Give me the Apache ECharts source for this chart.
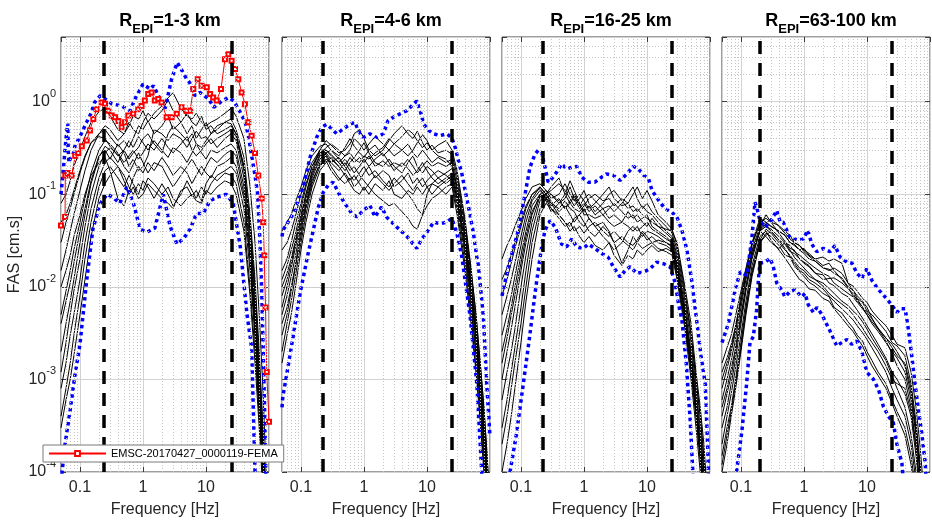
<!DOCTYPE html>
<html>
<head>
<meta charset="utf-8">
<script src="https://cdn.jsdelivr.net/npm/echarts@6/dist/echarts.min.js"></script>
<style>
html,body{margin:0;padding:0;background:#fff;}
#chart{width:932px;height:523px;}
</style>
</head>
<body>
<div id="chart"></div>
<script>
// Common frequency sampling of the individual records [Hz]
const FREQ = [0.05,0.06,0.07,0.08,0.1,0.12,0.15,0.2,0.25,0.3,0.4,0.5,0.6,0.7,0.85,1,1.2,1.5,2,2.5,3,4,5,6,7,8.5,10,12,15,20,25,30,40,50,60,70,80,90,100];

// Distance bins (km)
const binLabels = ['1-3', '4-6', '16-25', '63-100'];

// Usable band limits for each bin [Hz]
const bandLimits = [[0.24, 26], [0.22, 25], [0.22, 25], [0.2, 25]];

// FAS of individual records, bin 1-3 km [cm.s]
const records1 = [
  [0.08,0.1,0.14,0.2,0.3,0.42,0.6,0.78,0.85,0.7,0.5,0.45,0.55,0.7,0.65,0.8,0.6,0.75,0.9,1.1,1.25,0.85,0.7,0.65,0.75,0.6,0.55,0.6,0.65,0.75,0.85,0.7,0.4,0.12,0.03,0.005,0.0008,0.0001,0.00002],
  [0.03,0.05,0.07,0.1,0.17,0.25,0.36,0.45,0.5,0.42,0.33,0.38,0.32,0.4,0.55,0.5,0.62,0.45,0.55,0.7,0.5,0.6,0.45,0.55,0.4,0.5,0.6,0.45,0.5,0.6,0.65,0.5,0.25,0.06,0.012,0.002,0.0003,0.00005,0.00001],
  [0.005,0.009,0.015,0.025,0.05,0.09,0.17,0.3,0.38,0.35,0.28,0.22,0.26,0.3,0.24,0.28,0.35,0.3,0.4,0.32,0.28,0.35,0.42,0.3,0.26,0.3,0.35,0.4,0.32,0.4,0.45,0.38,0.15,0.03,0.005,0.0008,0.00015,0.00003,0.00001],
  [0.0004,0.0008,0.0015,0.003,0.008,0.02,0.05,0.12,0.18,0.2,0.15,0.12,0.16,0.13,0.1,0.14,0.12,0.09,0.13,0.1,0.075,0.1,0.14,0.11,0.09,0.12,0.1,0.13,0.16,0.18,0.2,0.17,0.07,0.015,0.003,0.0005,0.0001,0.00002,0.00001],
  [0.002,0.004,0.007,0.012,0.03,0.06,0.13,0.25,0.33,0.3,0.22,0.3,0.38,0.32,0.42,0.36,0.3,0.38,0.3,0.25,0.32,0.28,0.22,0.28,0.35,0.28,0.24,0.3,0.28,0.32,0.35,0.3,0.12,0.025,0.004,0.0007,0.00012,0.00002,0.00001],
  [0.01,0.015,0.022,0.035,0.06,0.1,0.16,0.22,0.25,0.18,0.09,0.075,0.11,0.15,0.2,0.17,0.22,0.18,0.25,0.2,0.16,0.2,0.17,0.13,0.16,0.2,0.17,0.15,0.2,0.22,0.25,0.2,0.09,0.02,0.003,0.0005,0.0001,0.00002,0.00001],
  [0.0012,0.0025,0.005,0.009,0.02,0.045,0.1,0.2,0.28,0.32,0.27,0.2,0.17,0.21,0.28,0.22,0.17,0.22,0.2,0.15,0.12,0.16,0.2,0.24,0.2,0.16,0.2,0.25,0.22,0.27,0.3,0.26,0.1,0.02,0.0035,0.0006,0.0001,0.00002,0.00001],
  [0.015,0.025,0.04,0.06,0.11,0.18,0.3,0.45,0.55,0.5,0.38,0.45,0.6,0.5,0.45,0.6,0.75,0.65,0.8,1.05,0.8,0.6,0.75,0.6,0.55,0.7,0.5,0.55,0.45,0.5,0.55,0.45,0.2,0.04,0.008,0.0012,0.0002,0.00003,0.00001],
  [0.0003,0.0006,0.001,0.0018,0.005,0.012,0.035,0.09,0.13,0.16,0.2,0.16,0.12,0.1,0.13,0.11,0.15,0.13,0.1,0.12,0.09,0.075,0.09,0.1,0.085,0.08,0.11,0.1,0.12,0.14,0.13,0.1,0.04,0.008,0.0015,0.0003,0.00006,0.00001,0.00001],
  [0.004,0.007,0.011,0.018,0.04,0.07,0.14,0.26,0.3,0.24,0.35,0.28,0.2,0.24,0.18,0.2,0.26,0.5,0.45,0.38,0.45,0.4,0.32,0.4,0.48,0.4,0.42,0.35,0.4,0.45,0.5,0.42,0.18,0.04,0.006,0.001,0.00018,0.00003,0.00001],
  [0.0008,0.0015,0.003,0.005,0.012,0.03,0.07,0.15,0.22,0.25,0.2,0.14,0.1,0.12,0.09,0.1,0.13,0.11,0.09,0.08,0.07,0.11,0.12,0.095,0.11,0.085,0.13,0.16,0.14,0.17,0.16,0.13,0.05,0.01,0.002,0.0004,0.00008,0.00001,0.00001],
  [0.05,0.06,0.08,0.11,0.18,0.26,0.36,0.42,0.4,0.33,0.26,0.3,0.24,0.28,0.32,0.4,0.45,0.35,0.28,0.45,0.55,0.45,0.38,0.45,0.35,0.32,0.38,0.45,0.55,0.6,0.58,0.45,0.2,0.05,0.01,0.0015,0.0003,0.00004,0.00001]
];

// FAS of individual records, bin 4-6 km
const records2 = [
  [0.04,0.05,0.06,0.08,0.12,0.18,0.26,0.33,0.35,0.3,0.26,0.32,0.4,0.33,0.28,0.25,0.3,0.26,0.3,0.38,0.45,0.55,0.45,0.4,0.48,0.36,0.3,0.34,0.28,0.3,0.27,0.16,0.05,0.015,0.005,0.0015,0.0005,0.00015,0.00004],
  [0.015,0.02,0.03,0.045,0.08,0.13,0.2,0.28,0.3,0.26,0.22,0.18,0.22,0.25,0.3,0.36,0.28,0.22,0.2,0.24,0.2,0.17,0.22,0.26,0.2,0.17,0.2,0.18,0.15,0.17,0.19,0.11,0.035,0.01,0.003,0.001,0.0003,0.0001,0.00003],
  [0.005,0.008,0.013,0.02,0.045,0.08,0.15,0.24,0.28,0.3,0.24,0.2,0.16,0.14,0.17,0.2,0.16,0.18,0.14,0.12,0.15,0.12,0.1,0.085,0.07,0.06,0.1,0.13,0.12,0.14,0.16,0.09,0.025,0.007,0.002,0.0006,0.0002,0.00006,0.00002],
  [0.002,0.004,0.007,0.012,0.03,0.06,0.12,0.2,0.24,0.22,0.18,0.22,0.18,0.2,0.16,0.14,0.12,0.1,0.085,0.075,0.08,0.065,0.055,0.045,0.042,0.06,0.075,0.09,0.1,0.12,0.13,0.07,0.018,0.005,0.0013,0.0004,0.00012,0.00004,0.00001],
  [0.01,0.014,0.02,0.03,0.06,0.1,0.17,0.27,0.32,0.35,0.3,0.26,0.3,0.4,0.35,0.3,0.35,0.42,0.35,0.3,0.26,0.3,0.35,0.28,0.25,0.3,0.26,0.22,0.25,0.22,0.24,0.14,0.045,0.013,0.004,0.0012,0.0004,0.00012,0.00003],
  [0.003,0.005,0.009,0.015,0.035,0.07,0.13,0.22,0.26,0.2,0.15,0.13,0.15,0.12,0.14,0.17,0.2,0.15,0.18,0.16,0.12,0.14,0.17,0.13,0.15,0.12,0.14,0.16,0.18,0.16,0.14,0.08,0.022,0.006,0.0018,0.0005,0.00015,0.00005,0.00001],
  [0.025,0.03,0.04,0.055,0.1,0.15,0.22,0.3,0.28,0.24,0.2,0.24,0.2,0.17,0.2,0.24,0.2,0.24,0.28,0.22,0.18,0.22,0.19,0.16,0.18,0.22,0.18,0.15,0.13,0.15,0.17,0.1,0.03,0.009,0.0028,0.0008,0.00025,0.00008,0.00002],
  [0.008,0.012,0.018,0.028,0.055,0.1,0.18,0.3,0.38,0.34,0.28,0.3,0.35,0.45,0.5,0.4,0.3,0.34,0.26,0.3,0.35,0.3,0.26,0.3,0.36,0.44,0.38,0.3,0.34,0.38,0.3,0.18,0.055,0.016,0.005,0.0015,0.0005,0.00015,0.00004],
  [0.0015,0.003,0.005,0.009,0.025,0.05,0.1,0.18,0.22,0.25,0.2,0.16,0.13,0.11,0.1,0.12,0.1,0.13,0.11,0.14,0.1,0.09,0.11,0.1,0.12,0.1,0.12,0.1,0.12,0.1,0.12,0.06,0.015,0.004,0.0012,0.00035,0.0001,0.00003,0.00001],
  [0.006,0.01,0.016,0.025,0.05,0.09,0.16,0.26,0.27,0.22,0.25,0.2,0.25,0.22,0.25,0.22,0.26,0.2,0.23,0.2,0.22,0.2,0.24,0.2,0.17,0.2,0.23,0.2,0.22,0.2,0.22,0.12,0.04,0.011,0.0035,0.001,0.0003,0.0001,0.00003],
  [0.012,0.017,0.025,0.035,0.07,0.12,0.2,0.3,0.3,0.27,0.22,0.26,0.28,0.24,0.22,0.26,0.24,0.28,0.32,0.4,0.35,0.42,0.5,0.45,0.38,0.32,0.36,0.3,0.26,0.24,0.2,0.12,0.035,0.01,0.003,0.0009,0.00028,0.00009,0.00002],
  [0.004,0.006,0.01,0.016,0.04,0.075,0.14,0.21,0.23,0.18,0.14,0.17,0.14,0.16,0.13,0.11,0.13,0.16,0.13,0.11,0.13,0.16,0.13,0.11,0.13,0.15,0.12,0.13,0.15,0.13,0.15,0.09,0.028,0.008,0.0025,0.0007,0.0002,0.00006,0.00002]
];

// FAS of individual records, bin 16-25 km
const records3 = [
  [0.02,0.028,0.035,0.045,0.065,0.09,0.12,0.13,0.11,0.09,0.1,0.13,0.1,0.085,0.1,0.085,0.07,0.08,0.1,0.12,0.09,0.075,0.08,0.065,0.07,0.06,0.055,0.05,0.045,0.042,0.04,0.03,0.01,0.004,0.0012,0.0005,0.0002,0.00006,0.00002],
  [0.008,0.012,0.018,0.026,0.045,0.07,0.1,0.12,0.1,0.12,0.15,0.1,0.08,0.095,0.075,0.09,0.1,0.085,0.07,0.075,0.065,0.08,0.1,0.12,0.09,0.07,0.08,0.065,0.055,0.045,0.038,0.025,0.008,0.003,0.001,0.0004,0.00015,0.00005,0.00002],
  [0.003,0.005,0.008,0.013,0.028,0.05,0.085,0.11,0.095,0.075,0.09,0.07,0.085,0.1,0.08,0.065,0.075,0.06,0.07,0.055,0.06,0.05,0.065,0.055,0.06,0.05,0.045,0.055,0.045,0.038,0.033,0.02,0.006,0.002,0.0007,0.00025,0.0001,0.00003,0.00001],
  [0.0003,0.0006,0.0012,0.0022,0.006,0.015,0.04,0.085,0.1,0.085,0.065,0.075,0.06,0.05,0.06,0.07,0.055,0.045,0.05,0.04,0.03,0.018,0.025,0.035,0.03,0.038,0.032,0.035,0.03,0.028,0.025,0.014,0.004,0.0013,0.0004,0.00015,0.00005,0.00002,0.00001],
  [0.001,0.002,0.0035,0.006,0.015,0.03,0.06,0.1,0.11,0.1,0.08,0.09,0.12,0.09,0.07,0.08,0.065,0.075,0.06,0.07,0.08,0.065,0.055,0.06,0.05,0.055,0.06,0.045,0.04,0.035,0.03,0.018,0.005,0.0017,0.0005,0.0002,0.00007,0.00002,0.00001],
  [0.0001,0.0002,0.0004,0.0008,0.0025,0.007,0.02,0.06,0.08,0.07,0.055,0.045,0.05,0.04,0.045,0.038,0.045,0.05,0.04,0.035,0.04,0.032,0.028,0.025,0.03,0.026,0.028,0.03,0.026,0.024,0.022,0.012,0.0035,0.001,0.0003,0.0001,0.00004,0.00001,0.00001],
  [0.012,0.016,0.022,0.03,0.05,0.075,0.1,0.115,0.09,0.07,0.06,0.05,0.045,0.055,0.06,0.05,0.04,0.035,0.045,0.038,0.03,0.035,0.03,0.028,0.032,0.04,0.035,0.03,0.032,0.03,0.028,0.016,0.005,0.0015,0.0005,0.00018,0.00006,0.00002,0.00001],
  [0.0006,0.0012,0.002,0.0035,0.01,0.022,0.05,0.095,0.1,0.11,0.13,0.11,0.09,0.075,0.09,0.11,0.08,0.065,0.08,0.1,0.11,0.085,0.07,0.075,0.065,0.075,0.065,0.06,0.05,0.04,0.035,0.022,0.007,0.0025,0.0008,0.0003,0.0001,0.00003,0.00001],
  [0.005,0.008,0.012,0.018,0.035,0.06,0.09,0.12,0.1,0.08,0.07,0.085,0.07,0.065,0.05,0.045,0.055,0.045,0.035,0.03,0.025,0.03,0.04,0.045,0.04,0.045,0.05,0.042,0.038,0.033,0.03,0.017,0.0055,0.0018,0.0006,0.0002,0.00007,0.00002,0.00001],
  [0.002,0.0035,0.006,0.01,0.022,0.04,0.075,0.1,0.09,0.1,0.085,0.07,0.08,0.07,0.065,0.075,0.09,0.1,0.085,0.09,0.075,0.09,0.08,0.1,0.12,0.09,0.11,0.085,0.06,0.05,0.042,0.028,0.009,0.0032,0.001,0.0004,0.00013,0.00004,0.00001],
  [0.0002,0.0004,0.0008,0.0015,0.004,0.01,0.03,0.07,0.09,0.08,0.06,0.05,0.04,0.045,0.035,0.03,0.035,0.028,0.025,0.03,0.022,0.017,0.022,0.02,0.025,0.022,0.025,0.028,0.024,0.026,0.024,0.013,0.004,0.0012,0.0004,0.00013,0.00004,0.00001,0.00001],
  [0.0015,0.0028,0.005,0.008,0.018,0.035,0.065,0.095,0.085,0.065,0.08,0.1,0.14,0.11,0.08,0.06,0.06,0.055,0.06,0.05,0.045,0.05,0.045,0.04,0.045,0.035,0.04,0.038,0.035,0.03,0.027,0.015,0.0045,0.0014,0.00045,0.00015,0.00005,0.00002,0.00001]
];

// FAS of individual records, bin 63-100 km
const records4 = [
  [0.0015,0.0022,0.003,0.0045,0.009,0.016,0.03,0.055,0.05,0.045,0.04,0.036,0.03,0.029,0.025,0.023,0.02,0.019,0.016,0.0155,0.014,0.0125,0.01,0.0092,0.0075,0.0068,0.0055,0.005,0.0042,0.0033,0.0025,0.0023,0.0018,0.0009,0.00035,0.00012,0.00004,0.00001,0.00001],
  [0.0006,0.001,0.0016,0.0025,0.006,0.012,0.025,0.045,0.06,0.05,0.046,0.04,0.036,0.03,0.028,0.025,0.023,0.02,0.017,0.018,0.015,0.012,0.0098,0.008,0.0074,0.006,0.005,0.004,0.0033,0.0025,0.002,0.0017,0.0012,0.0006,0.00025,0.00009,0.00003,0.00001,0.00001],
  [0.0003,0.0005,0.0009,0.0015,0.004,0.009,0.02,0.04,0.045,0.04,0.032,0.029,0.024,0.023,0.02,0.018,0.0165,0.014,0.0135,0.011,0.0103,0.0085,0.0078,0.0065,0.0056,0.0046,0.0038,0.0031,0.0024,0.0017,0.0012,0.001,0.0007,0.0004,0.00015,0.00005,0.00002,0.00001,0.00001],
  [0.0001,0.0002,0.0004,0.0007,0.002,0.005,0.013,0.03,0.038,0.035,0.028,0.022,0.021,0.017,0.0145,0.013,0.0112,0.0102,0.0085,0.0078,0.006,0.0052,0.0042,0.0036,0.003,0.0026,0.002,0.0016,0.0012,0.0009,0.0006,0.00045,0.0003,0.00015,0.00006,0.00002,0.00001,0.00001,0.00001],
  [0.0008,0.0013,0.002,0.003,0.007,0.014,0.028,0.05,0.055,0.05,0.038,0.031,0.026,0.025,0.02,0.0185,0.017,0.0142,0.012,0.0123,0.0125,0.011,0.0096,0.0085,0.0071,0.006,0.0053,0.0045,0.0036,0.0028,0.0022,0.0018,0.0015,0.0008,0.0003,0.0001,0.00003,0.00001,0.00001],
  [0.0002,0.0004,0.0007,0.0012,0.003,0.007,0.017,0.035,0.04,0.032,0.025,0.0205,0.017,0.0145,0.012,0.0112,0.0095,0.0092,0.0075,0.007,0.0058,0.0046,0.0038,0.0033,0.0028,0.0023,0.0018,0.0014,0.0011,0.0008,0.00055,0.0004,0.00025,0.00012,0.00005,0.00002,0.00001,0.00001,0.00001],
  [0.0012,0.0017,0.0024,0.0035,0.007,0.013,0.024,0.04,0.048,0.055,0.045,0.038,0.033,0.03,0.028,0.024,0.0215,0.019,0.0162,0.015,0.016,0.014,0.011,0.0092,0.008,0.007,0.006,0.0046,0.0035,0.0026,0.0019,0.0014,0.001,0.0005,0.0002,0.00007,0.00002,0.00001,0.00001],
  [0.0005,0.0008,0.0013,0.002,0.005,0.01,0.022,0.042,0.05,0.045,0.04,0.036,0.03,0.028,0.025,0.026,0.022,0.02,0.021,0.019,0.02,0.018,0.011,0.0102,0.009,0.0075,0.0068,0.0055,0.0046,0.0038,0.003,0.0024,0.0022,0.0012,0.0005,0.00018,0.00006,0.00002,0.00001],
  [0.00015,0.0003,0.0005,0.0009,0.0025,0.006,0.015,0.032,0.042,0.038,0.03,0.025,0.022,0.019,0.016,0.015,0.013,0.012,0.011,0.0096,0.0085,0.007,0.0063,0.0055,0.005,0.0042,0.0035,0.0028,0.0022,0.0016,0.0011,0.0008,0.0005,0.00025,0.0001,0.00004,0.00001,0.00001,0.00001],
  [0.0004,0.0007,0.0011,0.0018,0.0045,0.01,0.022,0.04,0.035,0.03,0.026,0.03,0.025,0.021,0.018,0.016,0.014,0.012,0.0102,0.0085,0.0076,0.0065,0.0058,0.005,0.0043,0.0036,0.003,0.0025,0.002,0.0014,0.001,0.0009,0.0008,0.00045,0.00018,0.00006,0.00002,0.00001,0.00001],
  [0.001,0.0015,0.0022,0.0033,0.008,0.015,0.03,0.048,0.045,0.042,0.035,0.03,0.028,0.024,0.022,0.02,0.018,0.016,0.014,0.013,0.011,0.0095,0.0085,0.0078,0.0068,0.0058,0.005,0.0042,0.0035,0.0028,0.0024,0.002,0.0014,0.0007,0.00028,0.0001,0.00003,0.00001,0.00001],
  [0.00012,0.00025,0.00045,0.0008,0.0022,0.0055,0.014,0.03,0.036,0.04,0.032,0.026,0.021,0.018,0.015,0.014,0.012,0.011,0.0095,0.008,0.007,0.0058,0.005,0.0044,0.0038,0.0032,0.0027,0.0022,0.0017,0.0012,0.0008,0.0006,0.0004,0.0002,0.00008,0.00003,0.00001,0.00001,0.00001]
];

// Upper and lower envelopes of each bin, [frequency, FAS]
const upper1 = [[0.05,0.1],[0.055,0.2],[0.06,0.4],[0.064,0.58],[0.065,0.3],[0.067,0.22],[0.072,0.26],[0.078,0.27],[0.083,0.33],[0.1,0.42],[0.12,0.55],[0.15,0.75],[0.17,0.98],[0.21,1.16],[0.25,1.07],[0.32,0.95],[0.46,0.9],[0.62,0.8],[0.79,1.16],[1.0,1.55],[1.3,1.37],[1.47,1.49],[1.98,0.98],[2.24,0.84],[2.85,1.77],[3.5,2.65],[4.0,2.27],[4.9,1.77],[5.5,1.61],[6.7,1.16],[8,1.26],[11,1.07],[13.3,0.87],[18,1.02],[23,1.11],[27.5,1.02],[35,0.77],[42,0.6],[47,0.43],[53,0.26],[60,0.16],[66,0.1],[72,0.03],[77,0.008],[81,0.002],[85,0.0005],[89,0.0001],[92,0.00003]];
const lower1 = [[0.05,0.00008],[0.052,0.0001],[0.058,0.0002],[0.07,0.00047],[0.083,0.0011],[0.1,0.0024],[0.128,0.0118],[0.16,0.042],[0.21,0.08],[0.27,0.1],[0.33,0.093],[0.43,0.08],[0.55,0.12],[0.69,0.085],[0.9,0.042],[1.15,0.039],[1.54,0.043],[2.1,0.1],[2.7,0.045],[3.45,0.029],[4.37,0.033],[5.6,0.042],[7.1,0.062],[9.0,0.062],[11.6,0.085],[14.9,0.093],[21,0.1],[27,0.08],[35,0.027],[44.5,0.0052],[53,0.0022],[60,0.0001],[62,0.00004]];
const upper2 = [[0.05,0.035],[0.052,0.041],[0.076,0.062],[0.109,0.12],[0.139,0.25],[0.177,0.41],[0.213,0.53],[0.256,0.57],[0.308,0.51],[0.37,0.45],[0.47,0.51],[0.6,0.57],[0.72,0.6],[0.81,0.49],[0.98,0.41],[1.24,0.45],[1.59,0.41],[2.03,0.45],[2.4,0.62],[2.92,0.68],[3.74,0.74],[4.8,0.8],[5.7,0.9],[6.9,1.02],[7.8,0.8],[8.9,0.57],[10.6,0.49],[12.7,0.45],[16.1,0.43],[20.5,0.45],[24.7,0.41],[28,0.32],[31.6,0.23],[35.8,0.166],[40.3,0.11],[45.6,0.073],[54.6,0.038],[61.8,0.021],[65.5,0.017],[78.6,0.0047],[88.7,0.0009],[100,0.00024]];
const lower2 = [[0.05,0.0005],[0.0515,0.00065],[0.059,0.0011],[0.075,0.0029],[0.097,0.0086],[0.13,0.023],[0.189,0.073],[0.226,0.105],[0.27,0.125],[0.326,0.135],[0.39,0.105],[0.5,0.079],[0.64,0.062],[0.77,0.057],[0.98,0.067],[1.24,0.076],[1.49,0.057],[1.9,0.073],[2.27,0.057],[2.92,0.048],[3.74,0.041],[4.8,0.035],[6.06,0.029],[6.9,0.026],[8.3,0.033],[10.6,0.041],[12.7,0.05],[16.1,0.048],[20.5,0.05],[24.7,0.055],[29.8,0.038],[35.8,0.021],[48.5,0.0047],[61.8,0.0009],[74,0.0001],[78,0.00004]];
const upper3 = [[0.05,0.008],[0.063,0.0165],[0.091,0.041],[0.116,0.1],[0.139,0.196],[0.167,0.27],[0.189,0.3],[0.213,0.28],[0.241,0.196],[0.27,0.135],[0.308,0.147],[0.37,0.174],[0.44,0.213],[0.53,0.188],[0.64,0.196],[0.77,0.2],[0.92,0.153],[1.17,0.135],[1.49,0.135],[1.9,0.153],[2.27,0.166],[2.92,0.16],[3.74,0.141],[4.8,0.166],[6.06,0.2],[7.3,0.188],[8.9,0.16],[10.6,0.147],[12,0.11],[15.3,0.086],[19.3,0.07],[24.7,0.064],[29.8,0.057],[35.8,0.041],[43,0.025],[51,0.012],[61,0.0045],[72,0.0018],[84,0.0009],[93,0.00015],[97,0.00005]];
const lower3 = [[0.062,0.00005],[0.067,0.0001],[0.085,0.00026],[0.109,0.0009],[0.139,0.0031],[0.167,0.0085],[0.19,0.016],[0.213,0.027],[0.241,0.041],[0.29,0.052],[0.35,0.044],[0.44,0.029],[0.53,0.027],[0.64,0.033],[0.77,0.027],[0.98,0.026],[1.17,0.029],[1.49,0.026],[1.9,0.023],[2.4,0.021],[2.92,0.0165],[3.74,0.0128],[4.5,0.015],[5.4,0.0165],[6.9,0.014],[8.9,0.0145],[11.2,0.0157],[14.3,0.0185],[18.2,0.0178],[23.2,0.0165],[28,0.011],[31.6,0.0066],[35.8,0.0044],[42,0.0015],[48.5,0.00036],[53,0.00011],[55,0.00005]];
const upper4 = [[0.05,0.0025],[0.063,0.004],[0.081,0.0093],[0.097,0.0145],[0.123,0.0133],[0.148,0.032],[0.167,0.082],[0.18,0.07],[0.2,0.052],[0.241,0.044],[0.29,0.05],[0.37,0.067],[0.42,0.05],[0.47,0.05],[0.6,0.034],[0.81,0.032],[0.98,0.033],[1.15,0.041],[1.33,0.029],[1.59,0.024],[2.03,0.026],[2.6,0.024],[3.1,0.028],[3.74,0.021],[4.8,0.0185],[5.8,0.018],[6.9,0.014],[8.3,0.0123],[9.9,0.0157],[12,0.0117],[15.3,0.0093],[19.3,0.0078],[24.7,0.0064],[29.8,0.0053],[33.6,0.0058],[40.3,0.0058],[45.6,0.0034],[51.3,0.0018],[57.9,0.0009],[65.5,0.00047],[74,0.00026],[84,0.000125],[90,0.00005]];
const lower4 = [[0.08,0.00006],[0.085,0.0001],[0.103,0.00027],[0.123,0.0009],[0.139,0.0025],[0.157,0.0029],[0.177,0.0056],[0.189,0.0118],[0.2,0.018],[0.241,0.0185],[0.29,0.0203],[0.326,0.0165],[0.37,0.011],[0.44,0.0093],[0.5,0.0078],[0.6,0.0089],[0.72,0.0093],[0.92,0.0078],[1.04,0.0085],[1.17,0.0064],[1.41,0.0053],[1.6,0.006],[1.9,0.0051],[2.27,0.004],[2.73,0.0031],[3.3,0.0023],[3.97,0.0025],[4.8,0.0027],[5.7,0.0024],[6.9,0.0026],[8.3,0.002],[9.9,0.0012],[12.7,0.001],[15.3,0.00077],[18.2,0.00051],[21.9,0.0004],[26.2,0.00034],[29.8,0.0002],[35.8,0.000125],[40,0.00005]];

// Highlighted record in the 1-3 km bin
const highlightName = 'EMSC-20170427_0000119-FEMA';
const highlightRecord = [[0.05,0.046],[0.058,0.057],[0.0585,0.16],[0.064,0.17],[0.074,0.16],[0.084,0.26],[0.094,0.28],[0.107,0.33],[0.128,0.38],[0.144,0.49],[0.163,0.65],[0.184,0.83],[0.221,0.98],[0.25,0.95],[0.282,0.8],[0.319,0.71],[0.36,0.68],[0.407,0.62],[0.459,0.53],[0.517,0.6],[0.584,0.71],[0.70,0.74],[0.84,0.83],[0.95,0.9],[1.07,1.03],[1.21,1.21],[1.37,1.26],[1.54,1.03],[1.75,1.07],[1.97,0.98],[2.37,0.68],[2.85,0.68],[3.44,0.74],[4.1,0.87],[4.9,0.8],[5.6,0.8],[6.3,1.37],[7.4,1.75],[8.5,1.49],[10.3,1.43],[11.6,1.21],[13.0,1.11],[14.8,1.03],[17.3,1.37],[20,2.88],[22.6,3.26],[25.5,2.77],[28.9,2.25],[32.6,1.75],[36.8,1.26],[41.5,0.94],[46.9,0.6],[53,0.43],[60,0.28],[67.6,0.16],[76.5,0.09],[81,0.05],[84,0.022],[88,0.006],[92,0.0012],[100,0.00035]];

// Axis ticks and minor grid positions
const xTickLabels = {'-1': '0.1', '0': '1', '1': '10'};
const xMinor = [0.06,0.07,0.08,0.09,0.2,0.3,0.4,0.5,0.6,0.7,0.8,0.9,2,3,4,5,6,7,8,9,20,30,40,50,60,70,80,90];
const yMinor = [0.0002,0.0003,0.0004,0.0005,0.0006,0.0007,0.0008,0.0009,0.002,0.003,0.004,0.005,0.006,0.007,0.008,0.009,0.02,0.03,0.04,0.05,0.06,0.07,0.08,0.09,0.2,0.3,0.4,0.5,0.6,0.7,0.8,0.9,2,3,4];

const FONT = "'Liberation Sans', Arial, Helvetica, sans-serif";
const PANEL_LEFT = [61, 282, 502, 722];
const PANEL_TOP = 37, PANEL_W = 208, PANEL_H = 435;
const allRecords = [records1, records2, records3, records4];
const allUpper = [upper1, upper2, upper3, upper4];
const allLower = [lower1, lower2, lower3, lower4];

const chart = echarts.init(document.getElementById('chart'), null, {renderer: 'canvas'});

const grid = [], xAxis = [], yAxis = [], series = [], title = [];
const noEmph = {disabled: true};
const tickStyle = {show: true, inside: true, length: 5, lineStyle: {color: '#3c3c3c'}};

binLabels.forEach((bin, i) => {
  grid.push({
    left: PANEL_LEFT[i], top: PANEL_TOP, width: PANEL_W, height: PANEL_H,
    show: true, borderColor: '#3c3c3c', borderWidth: 1, backgroundColor: '#fff',
    containLabel: false
  });
  xAxis.push({
    type: 'log', logBase: 10, gridIndex: i, min: 0.05, max: 100, position: 'bottom',
    axisLine: {show: false},
    axisTick: tickStyle,
    axisLabel: {
      fontSize: 16, color: '#262626', fontFamily: FONT, margin: 8,
      showMinLabel: false, showMaxLabel: false,
      formatter: v => {
        const e = Math.log10(v), r = Math.round(e);
        if (Math.abs(e - r) > 1e-6) return '';
        return xTickLabels[String(r)] || '';
      }
    },
    splitLine: {show: true, lineStyle: {color: '#d2d2d2', width: 1}},
    name: 'Frequency [Hz]', nameLocation: 'middle', nameGap: 30,
    nameTextStyle: {fontSize: 16, color: '#262626', fontFamily: FONT}
  });
  yAxis.push({
    type: 'log', logBase: 10, gridIndex: i, min: 0.0001, max: 5, position: 'left',
    axisLine: {show: false},
    axisTick: tickStyle,
    axisLabel: {
      show: i === 0, margin: 5, color: '#262626', fontFamily: FONT,
      formatter: v => {
        const e = Math.log10(v), r = Math.round(e);
        if (Math.abs(e - r) > 1e-6 || r > 0) return '';
        return '{b|10}{e|' + r + '}';
      },
      rich: {
        b: {fontSize: 16, color: '#262626', fontFamily: FONT},
        e: {fontSize: 11, color: '#262626', fontFamily: FONT, padding: [0, 0, 16, 0]}
      }
    },
    splitLine: {show: true, lineStyle: {color: '#d2d2d2', width: 1}},
    name: i === 0 ? 'FAS [cm.s]' : '', nameLocation: 'middle', nameGap: 38,
    nameTextStyle: {fontSize: 16, color: '#262626', fontFamily: FONT}
  });
  title.push({
    text: '{r|R}{s|EPI}{r|=' + bin + ' km}',
    left: PANEL_LEFT[i] + PANEL_W / 2, top: 2, textAlign: 'center',
    textStyle: {
      rich: {
        r: {fontSize: 18, fontWeight: 'bold', color: '#000', fontFamily: FONT, lineHeight: 22},
        s: {fontSize: 13, fontWeight: 'bold', color: '#000', fontFamily: FONT, padding: [16, 0, 0, 0]}
      }
    }
  });

  // minor grid lines
  series.push({
    type: 'line', xAxisIndex: i, yAxisIndex: i, data: [], silent: true, z: 1,
    markLine: {
      silent: true, symbol: ['none', 'none'], label: {show: false}, animation: false,
      emphasis: noEmph,
      lineStyle: {color: '#c4c4c4', width: 1, type: [1, 2]},
      data: xMinor.map(v => ({xAxis: v})).concat(yMinor.map(v => ({yAxis: v})))
    }
  });

  // individual records
  allRecords[i].forEach(rec => {
    series.push({
      type: 'line', xAxisIndex: i, yAxisIndex: i, z: 2, silent: true, clip: true,
      symbol: 'none', showSymbol: false, emphasis: noEmph,
      lineStyle: {color: '#000', width: 1},
      data: FREQ.map((f, k) => [f, rec[k]])
    });
  });

  // envelopes
  [allUpper[i], allLower[i]].forEach(env => {
    series.push({
      type: 'line', xAxisIndex: i, yAxisIndex: i, z: 3, silent: true, clip: true,
      symbol: 'none', showSymbol: false, emphasis: noEmph,
      lineStyle: {color: '#0000ff', width: 3.5, type: [3.5, 3.5], cap: 'butt'},
      data: env
    });
  });

  if (i === 0) {
    series.push({
      name: highlightName, type: 'line', xAxisIndex: 0, yAxisIndex: 0, z: 4, silent: true, clip: true,
      symbol: 'emptyRect', symbolSize: 4, showSymbol: true, emphasis: noEmph,
      lineStyle: {color: '#ff0000', width: 1},
      itemStyle: {color: '#ff0000', borderColor: '#ff0000', borderWidth: 1},
      data: highlightRecord
    });
  }

  // band limits
  series.push({
    type: 'line', xAxisIndex: i, yAxisIndex: i, data: [], silent: true, z: 6,
    markLine: {
      silent: true, symbol: ['none', 'none'], label: {show: false}, animation: false,
      emphasis: noEmph,
      lineStyle: {color: '#000', width: 3.5, type: [13, 9]},
      data: bandLimits[i].map(v => ({xAxis: v}))
    }
  });
});

// mirrored tick marks on the top and right edges of every panel
binLabels.forEach((bin, i) => {
  xAxis.push({
    type: 'log', logBase: 10, gridIndex: i, min: 0.05, max: 100, position: 'top',
    axisLine: {show: false}, axisTick: tickStyle, axisLabel: {show: false}, splitLine: {show: false}
  });
  yAxis.push({
    type: 'log', logBase: 10, gridIndex: i, min: 0.0001, max: 5, position: 'right',
    axisLine: {show: false}, axisTick: tickStyle, axisLabel: {show: false}, splitLine: {show: false}
  });
});

chart.setOption({
  animation: false,
  backgroundColor: '#fff',
  textStyle: {fontFamily: FONT},
  title: title,
  legend: {
    data: [highlightName], left: 43, top: 445, z: 20,
    orient: 'horizontal', selectedMode: false,
    itemWidth: 57, itemHeight: 6,
    padding: [3, 6, 3, 5],
    backgroundColor: '#fff', borderColor: '#7a7a7a', borderWidth: 1, borderRadius: 0,
    textStyle: {fontSize: 11, color: '#000', fontFamily: FONT}
  },
  grid: grid,
  xAxis: xAxis,
  yAxis: yAxis,
  series: series
});
</script>
</body>
</html>
